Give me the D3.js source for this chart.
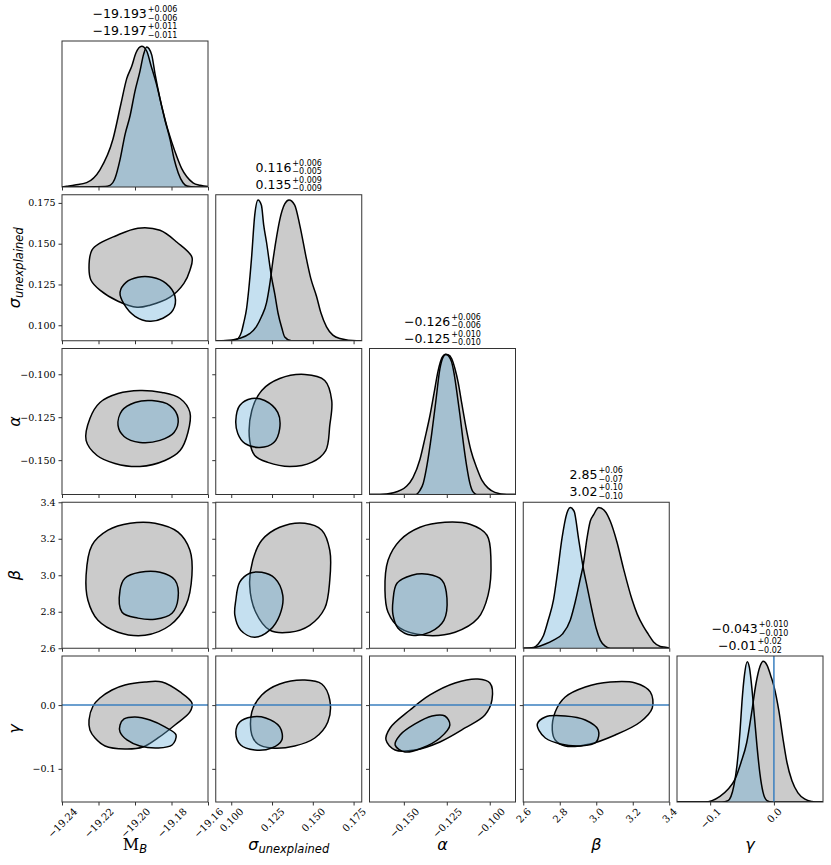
<!DOCTYPE html>
<html>
<head>
<meta charset="utf-8">
<script src="https://cdn.jsdelivr.net/npm/d3@7"></script>
<style>
  body { margin: 0; background: #fff; }
  text { font-family: "DejaVu Sans", sans-serif; }
</style>
</head>
<body>
<svg id="chart" width="831" height="865"></svg>
<script>
// parameter ranges and ticks (same for x and y of each parameter)
const ranges = [[-19.24, -19.16], [0.0905, 0.180], [-0.170, -0.085], [2.6, 3.4], [-0.152, 0.077]];
const ticks = [
  [-19.24, -19.22, -19.20, -19.18, -19.16],
  [0.100, 0.125, 0.150, 0.175],
  [-0.150, -0.125, -0.100],
  [2.6, 2.8, 3.0, 3.2, 3.4],
  [-0.1, 0.0]
];
const tickFormats = [".2f", ".3f", ".3f", ".1f", ".1f"];

// titles over the diagonal panels: first line = blue run, second line = grey run
const medBlue = ["−19.193", "0.116", "−0.126", "2.85", "−0.043"];
const upBlue  = ["+0.006", "+0.006", "+0.006", "+0.06", "+0.010"];
const loBlue  = ["−0.006", "−0.005", "−0.006", "−0.07", "−0.010"];
const medGray = ["−19.197", "0.135", "−0.125", "3.02", "−0.01"];
const upGray  = ["+0.011", "+0.009", "+0.010", "+0.10", "+0.02"];
const loGray  = ["−0.011", "−0.009", "−0.010", "−0.10", "−0.02"];

const truthGamma = 0.0;

// 1D marginals [value, normalised density]
const d0Gray = [[-19.2400,0],[-19.2374,0.005],[-19.2329,0.014],[-19.2265,0.031],[-19.2192,0.122],[-19.2121,0.338],[-19.2077,0.59],[-19.2045,0.77],[-19.2018,0.856],[-19.1995,0.95],[-19.1963,0.998],[-19.1936,0.964],[-19.1912,0.86],[-19.1881,0.722],[-19.1854,0.575],[-19.1826,0.433],[-19.1799,0.32],[-19.1771,0.216],[-19.1744,0.13],[-19.1717,0.074],[-19.1682,0.03],[-19.1644,0.012],[-19.1600,0.003]];
const d0Blue = [[-19.2164,0.003],[-19.2137,0.012],[-19.2110,0.06],[-19.2082,0.194],[-19.2055,0.37],[-19.2027,0.505],[-19.2000,0.68],[-19.1973,0.82],[-19.1953,0.94],[-19.1936,0.993],[-19.1923,0.98],[-19.1908,0.935],[-19.1890,0.8],[-19.1863,0.626],[-19.1836,0.475],[-19.1808,0.338],[-19.1786,0.2],[-19.1763,0.1],[-19.1737,0.03],[-19.1715,0.007],[-19.1671,0]];
const d1Gray = [[0.0950,0],[0.1052,0.018],[0.1113,0.05],[0.1154,0.10],[0.1185,0.17],[0.1216,0.268],[0.1236,0.40],[0.1257,0.58],[0.1280,0.75],[0.1297,0.855],[0.1328,0.97],[0.1354,0.998],[0.1389,0.962],[0.1420,0.82],[0.1461,0.58],[0.1488,0.44],[0.1523,0.314],[0.1549,0.2],[0.1584,0.099],[0.1623,0.04],[0.1666,0.016],[0.1768,0]];
const d1Blue = [[0.1011,0.004],[0.1034,0.01],[0.1063,0.063],[0.1077,0.13],[0.1093,0.22],[0.1107,0.36],[0.1124,0.58],[0.1144,0.89],[0.1164,0.998],[0.1185,0.96],[0.1199,0.82],[0.1216,0.70],[0.1246,0.459],[0.1267,0.33],[0.1287,0.195],[0.1310,0.09],[0.1328,0.027],[0.1369,0]];
const d2Gray = [[-0.1639,0],[-0.1561,0.012],[-0.1483,0.06],[-0.1447,0.12],[-0.1406,0.25],[-0.1377,0.40],[-0.1348,0.56],[-0.1324,0.72],[-0.1300,0.88],[-0.1278,0.97],[-0.1261,0.993],[-0.1243,0.99],[-0.1222,0.964],[-0.1202,0.89],[-0.1183,0.79],[-0.1162,0.64],[-0.1134,0.45],[-0.1109,0.31],[-0.1076,0.19],[-0.1045,0.10],[-0.1009,0.045],[-0.0970,0.015],[-0.0901,0]];
const d2Blue = [[-0.1435,0],[-0.1406,0.03],[-0.1387,0.08],[-0.1365,0.21],[-0.1338,0.43],[-0.1313,0.67],[-0.1290,0.892],[-0.1273,0.97],[-0.1255,0.995],[-0.1238,0.98],[-0.1222,0.94],[-0.1208,0.86],[-0.1193,0.74],[-0.1173,0.56],[-0.1154,0.37],[-0.1134,0.2],[-0.1115,0.077],[-0.1098,0.02],[-0.1076,0]];
const d3Gray = [[2.638,0],[2.721,0.03],[2.766,0.058],[2.814,0.1],[2.858,0.201],[2.885,0.33],[2.912,0.489],[2.930,0.6],[2.949,0.777],[2.967,0.9],[2.985,0.945],[3.013,0.998],[3.049,0.97],[3.077,0.9],[3.113,0.755],[3.150,0.561],[3.196,0.345],[3.225,0.24],[3.259,0.153],[3.285,0.1],[3.314,0.045],[3.351,0.013],[3.387,0.005]];
const d3Blue = [[2.656,0.005],[2.682,0.03],[2.711,0.09],[2.737,0.2],[2.766,0.345],[2.786,0.52],[2.812,0.777],[2.839,0.957],[2.858,0.998],[2.879,0.97],[2.903,0.777],[2.930,0.561],[2.951,0.43],[2.976,0.273],[3.000,0.14],[3.022,0.058],[3.049,0.015],[3.077,0]];
const d4Gray = [[-0.1081,0],[-0.0971,0.01],[-0.0846,0.04],[-0.0720,0.09],[-0.0611,0.16],[-0.0516,0.28],[-0.0427,0.42],[-0.0344,0.65],[-0.0281,0.84],[-0.0219,0.96],[-0.0167,0.997],[-0.0109,0.97],[-0.0046,0.89],[0.0001,0.82],[0.0080,0.64],[0.0142,0.45],[0.0205,0.28],[0.0283,0.15],[0.0377,0.065],[0.0487,0.02],[0.0597,0.004],[0.0691,0]];
const d4Blue = [[-0.0814,0],[-0.0720,0.01],[-0.0673,0.04],[-0.0626,0.12],[-0.0579,0.26],[-0.0532,0.5],[-0.0501,0.71],[-0.0462,0.9],[-0.0418,0.995],[-0.0383,0.95],[-0.0344,0.8],[-0.0305,0.6],[-0.0266,0.4],[-0.0219,0.2],[-0.0171,0.07],[-0.0109,0.01],[-0.0030,0]];

// 2D contours [x value, y value], row r / column c
const c10Gray = [[-19.2252,0.1349],[-19.2236,0.1460],[-19.2192,0.1503],[-19.2110,0.1546],[-19.1984,0.1595],[-19.1863,0.1582],[-19.1770,0.1509],[-19.1688,0.1417],[-19.1699,0.1337],[-19.1732,0.1257],[-19.1808,0.1172],[-19.1918,0.1123],[-19.1989,0.1110],[-19.2093,0.1147],[-19.2192,0.1215],[-19.2241,0.1276]];
const c10Blue = [[-19.2082,0.1202],[-19.2049,0.1263],[-19.1984,0.1294],[-19.1907,0.1294],[-19.1830,0.1257],[-19.1781,0.1178],[-19.1792,0.1092],[-19.1847,0.1043],[-19.1918,0.1024],[-19.2000,0.1055],[-19.2060,0.1129]];
const c20Gray = [[-19.2268,-0.1385],[-19.2247,-0.1257],[-19.2192,-0.1164],[-19.2093,-0.1112],[-19.1973,-0.1094],[-19.1852,-0.1106],[-19.1753,-0.1141],[-19.1699,-0.1222],[-19.1710,-0.1339],[-19.1753,-0.1444],[-19.1836,-0.1502],[-19.1973,-0.1537],[-19.2110,-0.1519],[-19.2208,-0.1473]];
const c20Blue = [[-19.2093,-0.1298],[-19.2071,-0.1211],[-19.2000,-0.1164],[-19.1907,-0.1153],[-19.1808,-0.1182],[-19.1764,-0.1257],[-19.1786,-0.1339],[-19.1863,-0.1385],[-19.1973,-0.1397],[-19.2060,-0.1362]];
const c30Gray = [[-19.2268,3.000],[-19.2236,3.164],[-19.2148,3.247],[-19.2027,3.285],[-19.1890,3.285],[-19.1764,3.236],[-19.1699,3.137],[-19.1688,3.000],[-19.1721,2.836],[-19.1808,2.726],[-19.1945,2.671],[-19.2093,2.688],[-19.2203,2.753],[-19.2258,2.863]];
const c30Blue = [[-19.2082,2.918],[-19.2055,2.984],[-19.1973,3.016],[-19.1863,3.016],[-19.1781,2.973],[-19.1764,2.874],[-19.1797,2.792],[-19.1890,2.759],[-19.1984,2.765],[-19.2071,2.797]];
const c40Gray = [[-19.2252,-0.0234],[-19.2230,-0.0014],[-19.2192,0.0111],[-19.2126,0.0237],[-19.2055,0.0315],[-19.1945,0.0362],[-19.1852,0.0362],[-19.1753,0.0206],[-19.1688,0.0033],[-19.1699,-0.0108],[-19.1781,-0.0312],[-19.1874,-0.0516],[-19.1956,-0.0657],[-19.2055,-0.0688],[-19.2164,-0.0641],[-19.2219,-0.0516],[-19.2247,-0.0390]];
const c40Blue = [[-19.2082,-0.0312],[-19.2060,-0.0218],[-19.2000,-0.0186],[-19.1918,-0.0234],[-19.1836,-0.0343],[-19.1775,-0.0469],[-19.1797,-0.0626],[-19.1874,-0.0673],[-19.1973,-0.0641],[-19.2044,-0.0547],[-19.2082,-0.0422]];
const c21Gray = [[0.1113,-0.1385],[0.1126,-0.1211],[0.1187,-0.1094],[0.1297,-0.1025],[0.1451,-0.1001],[0.1573,-0.1036],[0.1616,-0.1153],[0.1604,-0.1298],[0.1579,-0.1444],[0.1493,-0.1513],[0.1359,-0.1537],[0.1224,-0.1513],[0.1144,-0.1473]];
const c21Blue = [[0.1028,-0.1269],[0.1052,-0.1182],[0.1126,-0.1141],[0.1205,-0.1153],[0.1285,-0.1222],[0.1297,-0.1316],[0.1261,-0.1397],[0.1175,-0.1426],[0.1083,-0.1403],[0.1040,-0.1345]];
const c31Gray = [[0.1113,2.945],[0.1132,3.082],[0.1187,3.192],[0.1297,3.263],[0.1451,3.285],[0.1555,3.247],[0.1604,3.137],[0.1604,2.973],[0.1573,2.819],[0.1481,2.726],[0.1359,2.688],[0.1236,2.699],[0.1150,2.797]];
const c31Blue = [[0.1028,2.863],[0.1052,2.962],[0.1113,3.011],[0.1187,3.016],[0.1267,2.984],[0.1316,2.890],[0.1297,2.781],[0.1236,2.699],[0.1144,2.660],[0.1058,2.699],[0.1022,2.781]];
const c41Gray = [[0.1126,-0.0469],[0.1126,-0.0108],[0.1187,0.0159],[0.1297,0.0331],[0.1451,0.0394],[0.1555,0.0331],[0.1604,0.0080],[0.1592,-0.0265],[0.1512,-0.0516],[0.1389,-0.0641],[0.1248,-0.0673],[0.1163,-0.0610]];
const c41Blue = [[0.1028,-0.0437],[0.1052,-0.0265],[0.1126,-0.0186],[0.1211,-0.0202],[0.1297,-0.0343],[0.1310,-0.0547],[0.1248,-0.0673],[0.1144,-0.0704],[0.1058,-0.0626]];
const c32Gray = [[-0.1610,2.918],[-0.1592,3.082],[-0.1522,3.192],[-0.1406,3.263],[-0.1261,3.290],[-0.1115,3.279],[-0.1016,3.219],[-0.0993,3.082],[-0.1010,2.890],[-0.1069,2.764],[-0.1202,2.688],[-0.1377,2.671],[-0.1522,2.710],[-0.1592,2.797]];
const c32Blue = [[-0.1563,2.863],[-0.1540,2.956],[-0.1453,3.000],[-0.1360,3.005],[-0.1278,2.973],[-0.1249,2.874],[-0.1267,2.753],[-0.1348,2.688],[-0.1453,2.671],[-0.1534,2.710],[-0.1563,2.781]];
const c42Gray = [[-0.1604,-0.0547],[-0.1580,-0.0359],[-0.1464,-0.0077],[-0.1348,0.0159],[-0.1202,0.0347],[-0.1069,0.0409],[-0.0999,0.0347],[-0.0987,0.0080],[-0.1028,-0.0155],[-0.1144,-0.0359],[-0.1290,-0.0578],[-0.1435,-0.0704],[-0.1551,-0.0704]];
const c42Blue = [[-0.1551,-0.0626],[-0.1522,-0.0469],[-0.1435,-0.0296],[-0.1336,-0.0171],[-0.1261,-0.0171],[-0.1232,-0.0312],[-0.1290,-0.0516],[-0.1394,-0.0673],[-0.1493,-0.0735]];
const c43Gray = [[2.759,-0.0390],[2.775,-0.0108],[2.830,0.0127],[2.940,0.0284],[3.077,0.0362],[3.214,0.0347],[3.296,0.0206],[3.307,-0.0045],[3.241,-0.0265],[3.104,-0.0469],[2.967,-0.0610],[2.830,-0.0641],[2.775,-0.0547]];
const c43Blue = [[2.677,-0.0296],[2.721,-0.0186],[2.830,-0.0171],[2.940,-0.0234],[3.011,-0.0390],[3.000,-0.0578],[2.912,-0.0641],[2.803,-0.0610],[2.721,-0.0516],[2.688,-0.0406]];

const diagGray = [d0Gray, d1Gray, d2Gray, d3Gray, d4Gray];
const diagBlue = [d0Blue, d1Blue, d2Blue, d3Blue, d4Blue];
const contours = [
  { r: 1, c: 0, gray: c10Gray, blue: c10Blue },
  { r: 2, c: 0, gray: c20Gray, blue: c20Blue },
  { r: 3, c: 0, gray: c30Gray, blue: c30Blue },
  { r: 4, c: 0, gray: c40Gray, blue: c40Blue },
  { r: 2, c: 1, gray: c21Gray, blue: c21Blue },
  { r: 3, c: 1, gray: c31Gray, blue: c31Blue },
  { r: 4, c: 1, gray: c41Gray, blue: c41Blue },
  { r: 3, c: 2, gray: c32Gray, blue: c32Blue },
  { r: 4, c: 2, gray: c42Gray, blue: c42Blue },
  { r: 4, c: 3, gray: c43Gray, blue: c43Blue }
];

const grayFill = "#cbcbcb";
const blueFill = "rgb(103,174,216)";
const blueAlpha = 0.38;
const truthColor = "#3a7fbf";

const L = 62, T = 41, step = 153.75, S = 146;
const svg = d3.select("#chart");

const xs = ranges.map((r, i) => d3.scaleLinear().domain(r).range([L + i * step, L + i * step + S]));
const ys = ranges.map((r, i) => d3.scaleLinear().domain(r).range([T + i * step + S, T + i * step]));

const defs = svg.append("defs");
function clipFor(r, c) {
  const id = `clip-${r}-${c}`;
  defs.append("clipPath").attr("id", id)
    .append("rect").attr("x", L + c * step).attr("y", T + r * step).attr("width", S).attr("height", S);
  return `url(#${id})`;
}

function styleAxis(g) {
  g.select(".domain").remove();
  g.selectAll(".tick line").attr("stroke", "#333").attr("stroke-width", 1);
  g.selectAll(".tick text").attr("fill", "#000")
    .style("font-family", "'DejaVu Serif', serif").style("font-size", "9.5px");
}

function bottomAxis(r, c) {
  const g = svg.append("g")
    .attr("transform", `translate(0,${T + r * step + S})`)
    .call(d3.axisBottom(xs[c]).tickValues(ticks[c]).tickSizeInner(3.5).tickSizeOuter(0)
      .tickFormat(r === 4 ? d3.format(tickFormats[c]) : ""));
  styleAxis(g);
  if (r === 4) {
    g.selectAll(".tick text")
      .style("font-size", "10px")
      .attr("y", 0).attr("dy", null)
      .attr("text-anchor", "middle")
      .attr("dominant-baseline", "central")
      .attr("transform", function () {
        const w = this.getComputedTextLength();
        const c0 = 5 + (w + 8) * 0.7071 / 2;
        return `translate(0,${c0}) rotate(-45)`;
      });
  }
}

function leftAxis(r, c) {
  const g = svg.append("g")
    .attr("transform", `translate(${L + c * step},0)`)
    .call(d3.axisLeft(ys[r]).tickValues(ticks[r]).tickSizeInner(3.5).tickSizeOuter(0)
      .tickFormat(c === 0 ? d3.format(tickFormats[r]) : ""));
  styleAxis(g);
}

function frame(r, c) {
  svg.append("rect")
    .attr("x", L + c * step).attr("y", T + r * step)
    .attr("width", S).attr("height", S)
    .attr("fill", "none").attr("stroke", "#333").attr("stroke-width", 1);
}

// 2D panels
contours.forEach(p => {
  const sx = xs[p.c], sy = ys[p.r];
  const g = svg.append("g").attr("clip-path", clipFor(p.r, p.c));
  const line = d3.line().x(d => sx(d[0])).y(d => sy(d[1])).curve(d3.curveCatmullRomClosed.alpha(0.5));
  g.append("path").attr("d", line(p.gray))
    .attr("fill", grayFill).attr("stroke", "#000").attr("stroke-width", 1.5);
  g.append("path").attr("d", line(p.blue))
    .attr("fill", blueFill).attr("fill-opacity", blueAlpha)
    .attr("stroke", "#000").attr("stroke-width", 1.5);
  if (p.r === 4) {
    g.append("line")
      .attr("x1", L + p.c * step).attr("x2", L + p.c * step + S)
      .attr("y1", sy(truthGamma)).attr("y2", sy(truthGamma))
      .attr("stroke", truthColor).attr("stroke-width", 1.5);
  }
  frame(p.r, p.c);
  bottomAxis(p.r, p.c);
  leftAxis(p.r, p.c);
});

// diagonal panels
for (let i = 0; i < 5; i++) {
  const sx = xs[i];
  const sy = d3.scaleLinear().domain([0, 1.035]).range([T + i * step + S, T + i * step]);
  const g = svg.append("g").attr("clip-path", clipFor(i, i));
  const area = d3.area().x(d => sx(d[0])).y0(sy(0)).y1(d => sy(d[1])).curve(d3.curveMonotoneX);
  const line = d3.line().x(d => sx(d[0])).y(d => sy(d[1])).curve(d3.curveMonotoneX);
  const gFull = [[ranges[i][0], 0], ...diagGray[i], [ranges[i][1], 0]];
  const bFull = [[ranges[i][0], 0], ...diagBlue[i], [ranges[i][1], 0]];
  g.append("path").attr("d", area(gFull)).attr("fill", grayFill);
  g.append("path").attr("d", area(bFull)).attr("fill", blueFill).attr("fill-opacity", blueAlpha);
  g.append("path").attr("d", line(gFull)).attr("fill", "none").attr("stroke", "#000").attr("stroke-width", 1.5);
  g.append("path").attr("d", line(bFull)).attr("fill", "none").attr("stroke", "#000").attr("stroke-width", 1.5);
  if (i === 4) {
    g.append("line")
      .attr("x1", sx(truthGamma)).attr("x2", sx(truthGamma))
      .attr("y1", T + i * step).attr("y2", T + i * step + S)
      .attr("stroke", truthColor).attr("stroke-width", 1.5);
  }
  frame(i, i);
  bottomAxis(i, i);

  // titles
  const cx = L + i * step + S / 2;
  const top = T + i * step;
  title(cx, top - 23, medBlue[i], upBlue[i], loBlue[i]);
  title(cx, top - 6, medGray[i], upGray[i], loGray[i]);
}

function title(cx, yb, med, up, lo) {
  const g = svg.append("g");
  const t = g.append("text").attr("y", yb).style("font-size", "12.5px").text(med);
  const wm = t.node().getComputedTextLength();
  const tu = g.append("text").attr("y", yb - 6).style("font-size", "8px").text(up);
  const tl = g.append("text").attr("y", yb + 2.5).style("font-size", "8px").text(lo);
  const ws = Math.max(tu.node().getComputedTextLength(), tl.node().getComputedTextLength());
  const x0 = cx - (wm + ws + 1) / 2;
  t.attr("x", x0);
  tu.attr("x", x0 + wm + 1);
  tl.attr("x", x0 + wm + 1);
}

// axis labels
const labelMain = ["M", "σ", "α", "β", "γ"];
const labelSub = ["B", "unexplained", "", "", ""];

function axisLabel(text, main, sub, i) {
  text.append("tspan")
    .style("font-family", i === 0 ? "'DejaVu Serif', serif" : "'DejaVu Sans', sans-serif")
    .style("font-style", i === 0 ? "normal" : "italic")
    .style("font-size", "16px")
    .text(main);
  if (sub) {
    text.append("tspan")
      .attr("dy", 3)
      .style("font-style", "italic")
      .style("font-size", "11.5px")
      .text(sub);
  }
}

for (let i = 0; i < 5; i++) {
  const t = svg.append("text")
    .attr("x", L + i * step + S / 2).attr("y", 850)
    .attr("text-anchor", "middle");
  axisLabel(t, labelMain[i], labelSub[i], i);
}
for (let i = 1; i < 5; i++) {
  const cy = T + i * step + S / 2;
  const t = svg.append("text")
    .attr("transform", `translate(20,${cy}) rotate(-90)`)
    .attr("text-anchor", "middle");
  axisLabel(t, labelMain[i], labelSub[i], i);
}
</script>
</body>
</html>
